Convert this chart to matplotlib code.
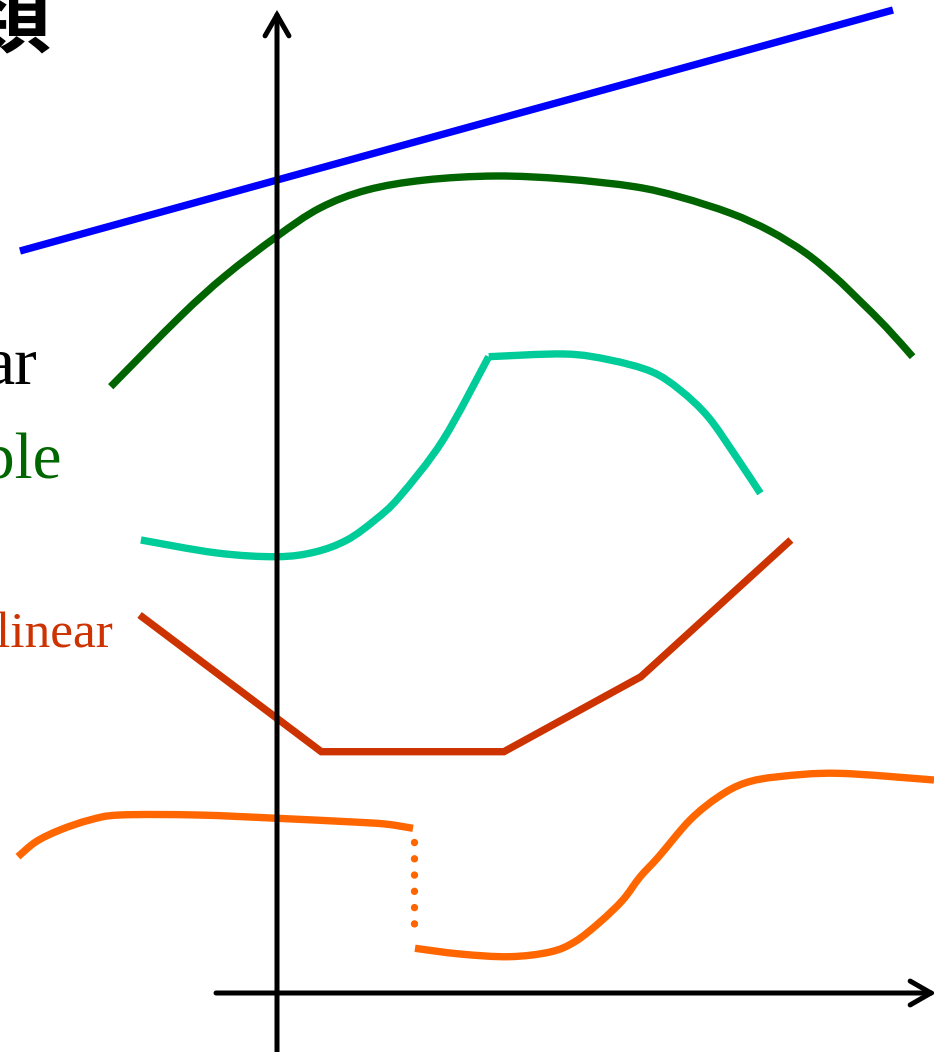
import matplotlib
matplotlib.use("Agg")
import matplotlib.pyplot as plt
from matplotlib.path import Path
from matplotlib.patches import PathPatch

# ---- data (x to the right of the y axis, y above the x axis) ----
linear_x = [-257, 616]
linear_y = [742, 983]

smooth_x = [-166.3, -97, -52, -0.6, 43, 90, 148, 218.6, 288, 357.6, 403, 453.8, 493, 528.7, 558, 582, 609, 635.6]
smooth_y = [606.3, 676.3, 717, 756.3, 785, 803, 813, 817, 814, 806.3, 796, 779.7, 762, 740, 716, 693, 666, 636.3]

kink_x = [-136.1, -60, 0, 38, 70, 98, 122.6, 166, 211.7, 287.8, 333, 374.7, 403, 431, 458, 483.4]
kink_y = [453, 440, 436.3, 441, 453, 473, 496.3, 553, 636.3, 639, 633, 621.3, 603, 576.3, 538, 499.7]
kink_index = 8

pwl_x = [-137.4, 44.3, 226.9, 363.9, 513.9]
pwl_y = [378, 241.3, 241.3, 316.3, 453]

jump_left_x = [-259, -241, -217.1, -187.2, -157.2, -79.4, 0, 70.3, 108, 136]
jump_left_y = [136.3, 151.3, 163, 173, 178, 178, 174.7, 171.3, 169, 164.7]
jump_gap_x = [136.5, 136.5]
jump_gap_y = [151.3, 54.7]
jump_right_x = [138, 183, 232, 273, 297.9, 323, 345.8, 363, 381.7, 413, 441.6, 468, 501.4, 561, 657]
jump_right_y = [44.7, 39, 36.3, 41, 51.3, 71, 93, 116, 136.3, 173, 196.3, 210, 216.3, 219.7, 213]

labels = ["類", "ar", "ble", "linear"]
label_x = [-227, -240, -215, -164]
label_y = [948, 610, 516, 345]
label_colors = ["black", "black", "#006600", "#CC3300"]
label_sizes = [62, 49, 47, 37]


def smooth_curve(ax, xs, ys, **kw):
    """Draw a smooth curve through the given points as cubic Bezier segments."""
    pts = list(zip(xs, ys))
    ext = [pts[0]] + pts + [pts[-1]]
    verts = [pts[0]]
    codes = [Path.MOVETO]
    for i in range(1, len(ext) - 2):
        p0, p1, p2, p3 = ext[i - 1], ext[i], ext[i + 1], ext[i + 2]
        c1 = (p1[0] + (p2[0] - p0[0]) / 6, p1[1] + (p2[1] - p0[1]) / 6)
        c2 = (p2[0] - (p3[0] - p1[0]) / 6, p2[1] - (p3[1] - p1[1]) / 6)
        verts += [c1, c2, p2]
        codes += [Path.CURVE4] * 3
    ax.add_patch(PathPatch(Path(verts, codes), fill=False, capstyle="butt", joinstyle="round", **kw))


# ---- figure ----
fig = plt.figure(figsize=(9.34, 10.52), dpi=100)
ax = fig.add_axes([0, 0, 1, 1])
ax.set_xlim(-277, 657)
ax.set_ylim(-59, 993)
ax.axis("off")

lw = 5.3
ax.plot(linear_x, linear_y, color="#0000FF", lw=lw, solid_capstyle="butt")
smooth_curve(ax, smooth_x, smooth_y, color="#006400", lw=lw)
smooth_curve(ax, kink_x[:kink_index + 1], kink_y[:kink_index + 1], color="#00CC99", lw=lw)
smooth_curve(ax, kink_x[kink_index:], kink_y[kink_index:], color="#00CC99", lw=lw)
ax.plot(pwl_x, pwl_y, color="#CC3300", lw=lw, solid_capstyle="butt", solid_joinstyle="miter")
smooth_curve(ax, jump_left_x, jump_left_y, color="#FF6600", lw=lw)
smooth_curve(ax, jump_right_x, jump_right_y, color="#FF6600", lw=lw)
ax.plot(jump_gap_x, jump_gap_y, color="#FF6600", lw=lw, dashes=(0.01, 2.2), dash_capstyle="round")

# axes with arrows
arrow_kw = dict(arrowstyle="->,head_length=15,head_width=8.6", lw=3.6, color="black",
                mutation_scale=1, shrinkA=0, shrinkB=0, joinstyle="miter", capstyle="round")
ax.annotate("", xy=(0, 983), xytext=(0, -80), arrowprops=arrow_kw, annotation_clip=False)
ax.annotate("", xy=(659, 0), xytext=(-61, 0), arrowprops=arrow_kw, annotation_clip=False)

# labels (cut off at the left edge, as in the reference)
ax.text(label_x[0], label_y[0], labels[0], ha="right", va="baseline", color=label_colors[0],
        fontsize=label_sizes[0], fontweight="bold", family=["Noto Sans CJK JP", "DejaVu Sans"])
for t, x, y, c, s in zip(labels[1:], label_x[1:], label_y[1:], label_colors[1:], label_sizes[1:]):
    ax.text(x, y, t, ha="right", va="baseline", color=c, fontsize=s, family=["Liberation Serif"])

fig.savefig("out.png", dpi=100)
